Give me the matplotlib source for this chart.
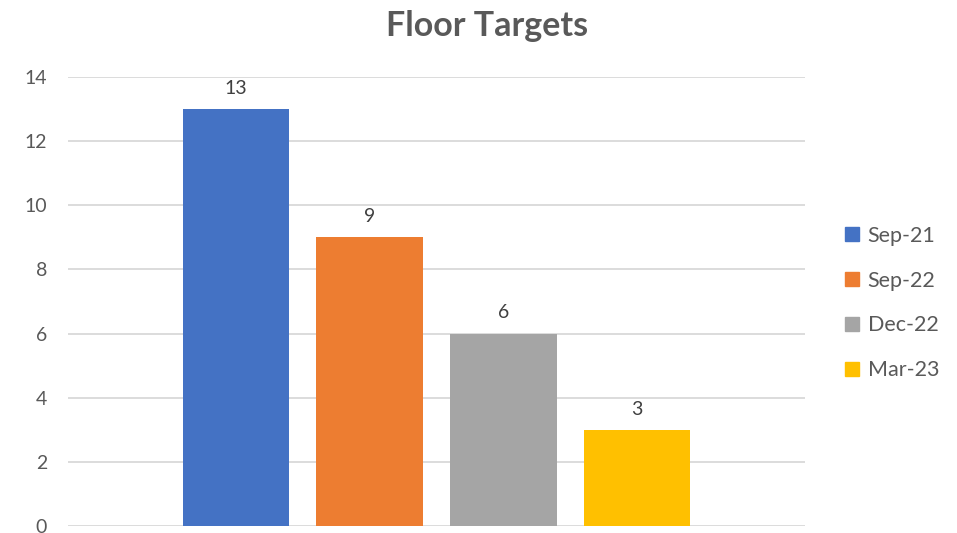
import matplotlib
matplotlib.use("Agg")
import matplotlib.pyplot as plt
from matplotlib.lines import Line2D

series = ["Sep-21", "Sep-22", "Dec-22", "Mar-23"]
values = [13, 9, 6, 3]
colors = ["#4472C4", "#ED7D31", "#A5A5A5", "#FFC000"]
yticks = [0, 2, 4, 6, 8, 10, 12, 14]

plt.rcParams['font.family'] = ['Lato', 'DejaVu Sans']

fig = plt.figure(figsize=(9.57, 5.33), dpi=100)
ax = fig.add_axes([68/957, (533-526)/533, (805-68)/957, (526-77)/533])

n = len(series)
width = 0.145
step = 0.1814
offsets = [(i - (n - 1) / 2) * step for i in range(n)]
for off, v, c, s in zip(offsets, values, colors, series):
    ax.bar(off, v, width=width, color=c, label=s, zorder=3)
    ax.text(off, v + 0.38, str(v), ha='center', va='bottom', fontsize=14, color='#404040')

ax.set_xlim(-0.5, 0.5)
ax.set_ylim(0, 14)
ax.set_yticks(yticks)
ax.set_xticks([])
ax.grid(axis='y', color='#d9d9d9', linewidth=1.3, zorder=0)
for sp in ax.spines.values():
    sp.set_visible(False)
ax.tick_params(axis='y', length=0, pad=15, labelsize=14, labelcolor='#595959')

fig.text(487/957, 1 - 26/533, "Floor Targets", ha='center', va='center',
         fontsize=24.5, fontweight='bold', color='#595959')

handles = [Line2D([0], [0], marker='s', linestyle='none', markersize=10,
                  markerfacecolor=c, markeredgecolor=c) for c in colors]
leg = fig.legend(handles, series, loc='center left', bbox_to_anchor=(830/957, 1 - 303/533),
                 frameon=False, fontsize=15.5, labelspacing=1.15, handletextpad=0.25,
                 handlelength=1.0, borderpad=0)
for t in leg.get_texts():
    t.set_color('#595959')

fig.savefig("out.png", dpi=100)
